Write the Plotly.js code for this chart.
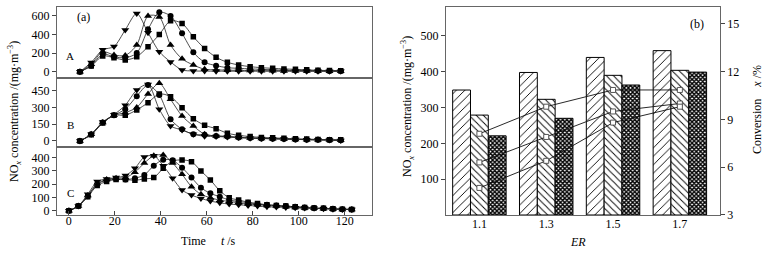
<!DOCTYPE html>
<html><head><meta charset="utf-8">
<script src="https://cdn.plot.ly/plotly-3.0.1.min.js"></script>
<style>html,body{margin:0;padding:0;background:#fff}#c{width:772px;height:256px}</style>
</head><body><div id="c"></div><script>
// ---- panel (a) time grids (s)
const tAB = [4.9, 9.8, 14.8, 19.7, 24.6, 29.6, 34.5, 39.4, 44.3, 49.3, 54.2, 59.1, 64.1, 69.0, 73.9, 78.9, 83.8, 88.7, 93.6, 98.6, 103.5, 108.4, 113.4, 118.3];
const tC = [0.1, 4.2, 8.3, 12.4, 16.5, 20.6, 24.7, 28.8, 32.9, 37.0, 41.1, 45.2, 49.3, 53.4, 57.5, 61.6, 65.7, 69.8, 73.9, 78.0, 82.1, 86.2, 90.3, 94.4, 98.5, 102.6, 106.7, 110.8, 114.9, 119.0, 123.1];
// ---- panel A NOx (mg/m3)
const A_square = [0, 60, 170, 150, 126, 161, 269, 400, 548, 520, 376, 250, 155, 101, 72, 54, 43, 36, 30, 25, 20, 15, 12, 10];
const A_circle = [0, 65, 190, 160, 150, 200, 456, 640, 600, 413, 208, 101, 65, 43, 36, 30, 25, 20, 16, 14, 12, 10, 8, 8];
const A_triup  = [0, 80, 215, 180, 175, 287, 600, 590, 287, 138, 72, 26, 20, 16, 14, 12, 10, 10, 8, 8, 6, 6, 5, 5];
const A_tridn  = [0, 100, 235, 270, 450, 628, 420, 215, 105, 18, 8, 6, 5, 5, 5, 5, 5, 5, 5, 5, 5, 5, 5, 5];
// ---- panel B
const B_square = [0, 55, 160, 230, 230, 277, 342, 420, 396, 297, 199, 140, 110, 69, 51, 39, 32, 28, 24, 20, 17, 14, 12, 10];
const B_circle = [0, 60, 165, 230, 283, 400, 500, 411, 194, 104, 60, 55, 45, 40, 32, 27, 23, 20, 17, 14, 12, 10, 8, 6];
const B_triup  = [0, 60, 165, 230, 253, 300, 420, 515, 372, 223, 134, 60, 45, 40, 32, 27, 23, 20, 17, 14, 12, 10, 8, 6];
const B_tridn  = [0, 60, 170, 235, 319, 455, 505, 283, 134, 98, 60, 42, 40, 35, 30, 25, 22, 20, 18, 15, 12, 10, 8, 5];
// ---- panel C
const C_square = [0, 35, 105, 190, 220, 235, 235, 230, 240, 250, 320, 375, 383, 370, 300, 232, 151, 98, 81, 65, 55, 45, 40, 35, 30, 25, 20, 18, 15, 12, 10];
const C_circle = [0, 35, 110, 200, 230, 240, 235, 245, 270, 340, 385, 380, 325, 250, 174, 131, 106, 81, 70, 60, 50, 45, 40, 35, 30, 25, 20, 18, 15, 12, 10];
const C_triup  = [0, 35, 115, 205, 235, 245, 250, 290, 360, 415, 420, 360, 275, 181, 124, 98, 80, 70, 60, 50, 45, 40, 35, 30, 25, 20, 18, 15, 12, 10, 10];
const C_tridn  = [0, 35, 125, 220, 240, 250, 265, 320, 405, 415, 340, 245, 156, 118, 93, 73, 60, 50, 45, 40, 35, 30, 28, 25, 22, 20, 18, 15, 12, 10, 10];
// ---- panel (b)
const ER = ['1.1', '1.3', '1.5', '1.7'];
const bar1 = [349, 398, 440, 459];
const bar2 = [279, 323, 390, 404];
const bar3 = [221, 270, 363, 399];
const conv1 = [8.1, 9.8, 10.85, 10.85];
const conv2 = [6.3, 7.9, 9.5, 10.0];
const conv3 = [4.7, 6.4, 8.8, 9.8];

const FONT = 'Liberation Serif, Times New Roman, serif';
const traces = [];
function line(x, y, xa, ya, sym, sz) {
  traces.push({x: x, y: y, xaxis: xa, yaxis: ya, type: 'scatter', mode: 'lines+markers',
    line: {color: '#222', width: 0.8, shape: 'spline', smoothing: 0.8},
    marker: {symbol: sym, size: sz, color: '#000'}, showlegend: false, cliponaxis: true});
}
[['x','y',A_square,A_circle,A_triup,A_tridn,tAB],['x2','y2',B_square,B_circle,B_triup,B_tridn,tAB],['x3','y3',C_square,C_circle,C_triup,C_tridn,tC]].forEach(p => {
  line(p[6], p[2], p[0], p[1], 'square', 5.5);
  line(p[6], p[3], p[0], p[1], 'circle', 6);
  line(p[6], p[4], p[0], p[1], 'triangle-up', 7);
  line(p[6], p[5], p[0], p[1], 'triangle-down', 7);
});
const barLine = {color: '#000', width: 1};
traces.push({type: 'bar', x: ER, y: bar1, xaxis: 'x4', yaxis: 'y4', showlegend: false,
  marker: {color: '#fff', line: barLine, pattern: {shape: '/', fgcolor: '#000', bgcolor: '#fff', size: 6, solidity: 0.15}}});
traces.push({type: 'bar', x: ER, y: bar2, xaxis: 'x4', yaxis: 'y4', showlegend: false,
  marker: {color: '#fff', line: barLine, pattern: {shape: '\\', fgcolor: '#000', bgcolor: '#fff', size: 5, solidity: 0.18}}});
traces.push({type: 'bar', x: ER, y: bar3, xaxis: 'x4', yaxis: 'y4', showlegend: false,
  marker: {color: '#fff', line: barLine, pattern: {shape: 'x', fgcolor: '#000', bgcolor: '#fff', size: 3, solidity: 0.7}}});
[conv1, conv2, conv3].forEach(c => traces.push({type: 'scatter', mode: 'lines+markers', x: ER, y: c, xaxis: 'x4', yaxis: 'y5', showlegend: false,
  line: {color: '#111', width: 0.9}, marker: {symbol: 'square', size: 5, color: '#fff', line: {color: '#555', width: 1}}}));

const tf = {family: FONT, size: 12, color: '#000'};
const frame = {showline: true, mirror: true, linecolor: '#666', linewidth: 1, zeroline: false, showgrid: false};
const xa = {domain: [0.0738, 0.4819], range: [-5.09, 131.9], ticks: '', showticklabels: false};
function yA(dom, rng, tv, anchor) {
  return Object.assign({}, frame, {domain: dom, range: rng, tickvals: tv, ticks: 'outside', ticklen: 4, tickcolor: '#444', tickfont: tf, anchor: anchor});
}
function ann(text, px, py, extra) {
  return Object.assign({text: text, x: px/772, y: 1 - py/256, xref: 'paper', yref: 'paper', xanchor: 'center', yanchor: 'middle', showarrow: false, font: tf}, extra || {});
}
const small = {font: {family: FONT, size: 11, color: '#000'}};
const layout = {
  width: 772, height: 256, autosize: false,
  margin: {l: 0, r: 0, t: 0, b: 0},
  paper_bgcolor: '#fff', plot_bgcolor: '#fff',
  font: {family: FONT, size: 12, color: '#000'},
  barmode: 'group', bargap: 0.2, bargroupgap: 0,
  xaxis: Object.assign({}, frame, xa, {anchor: 'y'}),
  xaxis2: Object.assign({}, frame, xa, {anchor: 'y2'}),
  xaxis3: Object.assign({}, frame, xa, {anchor: 'y3', ticks: 'inside', ticklen: 4, tickcolor: '#444', showticklabels: true, ticklabelstandoff: -5, tickvals: [0, 20, 40, 60, 80, 100, 120], tickfont: tf}),
  yaxis: yA([0.6965, 0.9727], [-65, 697], [0, 200, 400, 600], 'x'),
  yaxis2: yA([0.4270, 0.6965], [-51, 565], [0, 150, 300, 450], 'x2'),
  yaxis3: yA([0.1602, 0.4270], [-32, 483], [0, 100, 200, 300, 400], 'x3'),
  xaxis4: Object.assign({}, frame, {domain: [0.5777, 0.9326], type: 'category', range: [-0.5, 3.6], anchor: 'y4', ticks: '', ticklabelstandoff: -2, tickfont: tf}),
  yaxis4: Object.assign({}, frame, {mirror: false, domain: [0.1602, 0.9715], range: [0, 580], tickvals: [100, 200, 300, 400, 500], ticks: 'outside', ticklen: 4, tickcolor: '#444', tickfont: tf, anchor: 'x4'}),
  yaxis5: {overlaying: 'y4', side: 'right', anchor: 'x4', range: [3, 16.04], tickvals: [3, 6, 9, 12, 15], ticks: 'outside', ticklen: 4, tickcolor: '#444', tickfont: tf, showline: true, linecolor: '#666', linewidth: 1, zeroline: false, showgrid: false},
  annotations: [
    ann('NO<sub><i>x</i></sub> concentration /(mg·m<sup>−3</sup>)', 14, 112, {textangle: -90}),
    ann('Time&nbsp;&nbsp;&nbsp;&nbsp;&nbsp;<i>t</i> /s', 208, 241),
    ann('(a)', 83, 17),
    ann('A', 70, 56, small),
    ann('B', 70, 124.5, small),
    ann('C', 70, 193, small),
    ann('NO<sub><i>x</i></sub> concentration /(mg·m<sup>−3</sup>)', 407, 107, {textangle: -90}),
    ann('Conversion&nbsp;&nbsp;&nbsp;&nbsp;<i>x</i> /%', 757, 110, {textangle: -90}),
    ann('<i>ER</i>', 578, 241.5),
    ann('(b)', 697, 24)
  ]
};
Plotly.newPlot('c', traces, layout, {displayModeBar: false, staticPlot: true});
</script></body></html>
